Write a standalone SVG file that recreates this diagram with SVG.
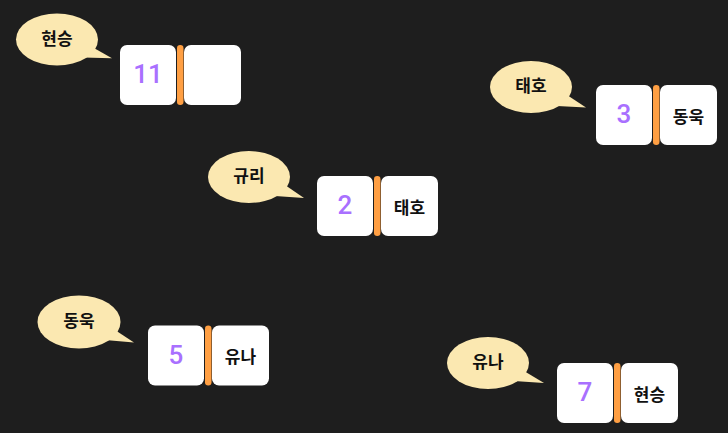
<svg xmlns="http://www.w3.org/2000/svg" width="728" height="433" viewBox="0 0 728 433">
<defs>
<style>
.bg{fill:#1e1e1e}
.box{fill:#ffffff}
.bar{fill:#ff9f43}
.bub{fill:#fbe8b1}
.num{font-family:Roboto,"Noto Sans","Noto Sans CJK KR",sans-serif;font-size:26px;font-weight:500;fill:#a970ff;text-anchor:middle;dominant-baseline:central}
.nm{font-family:"Noto Sans CJK KR","Noto Sans",sans-serif;font-size:17px;font-weight:700;fill:#111111;text-anchor:middle;dominant-baseline:central}
.lb{font-family:"Noto Sans CJK KR","Noto Sans",sans-serif;font-size:17px;font-weight:700;fill:#111111;text-anchor:middle;dominant-baseline:central}
</style>
<g id="card">
<rect class="box" x="0" y="0" width="56" height="60" rx="7"/>
<rect class="bar" x="57" y="0" width="6.5" height="60" rx="3.2"/>
<rect class="box" x="64" y="0" width="57" height="60" rx="7"/>
</g>
</defs>
<rect class="bg" x="0" y="0" width="728" height="433"/>
<g id="connectors"></g>

<g id="node-11">
<path class="bub" d="M93,47.5 L112,58.3 L83,57.5 Z"/>
<ellipse class="bub" cx="57" cy="39.5" rx="41" ry="26"/>
<text class="lb" x="57" y="37">현승</text>
<use href="#card" x="120" y="45"/>
<text class="num" x="148" y="74">11</text>
</g>

<g id="node-3">
<path class="bub" d="M567,95 L586,107.5 L557,106 Z"/>
<ellipse class="bub" cx="531" cy="87" rx="41" ry="26"/>
<text class="lb" x="531" y="84.5">태호</text>
<use href="#card" x="596" y="85"/>
<text class="num" x="624" y="114">3</text>
<text class="nm" x="688.5" y="115">동욱</text>
</g>

<g id="node-2">
<path class="bub" d="M285,185 L304,198 L275,196 Z"/>
<ellipse class="bub" cx="249" cy="177" rx="41" ry="26"/>
<text class="lb" x="249" y="174">규리</text>
<use href="#card" x="317" y="176"/>
<text class="num" x="345" y="205">2</text>
<text class="nm" x="409.5" y="206">태호</text>
</g>

<g id="node-5">
<path class="bub" d="M115,330 L134,342.5 L105,340 Z"/>
<ellipse class="bub" cx="79" cy="322" rx="41.5" ry="26.5"/>
<text class="lb" x="79" y="319.5">동욱</text>
<use href="#card" x="148" y="325.5"/>
<text class="num" x="176" y="354.5">5</text>
<text class="nm" x="240.5" y="355.5">유나</text>
</g>

<g id="node-7">
<path class="bub" d="M524,371 L544,383 L514,381 Z"/>
<ellipse class="bub" cx="488" cy="363" rx="41" ry="26"/>
<text class="lb" x="488" y="360.5">유나</text>
<use href="#card" x="557" y="363"/>
<text class="num" x="585" y="392">7</text>
<text class="nm" x="649.5" y="393">현승</text>
</g>
</svg>
